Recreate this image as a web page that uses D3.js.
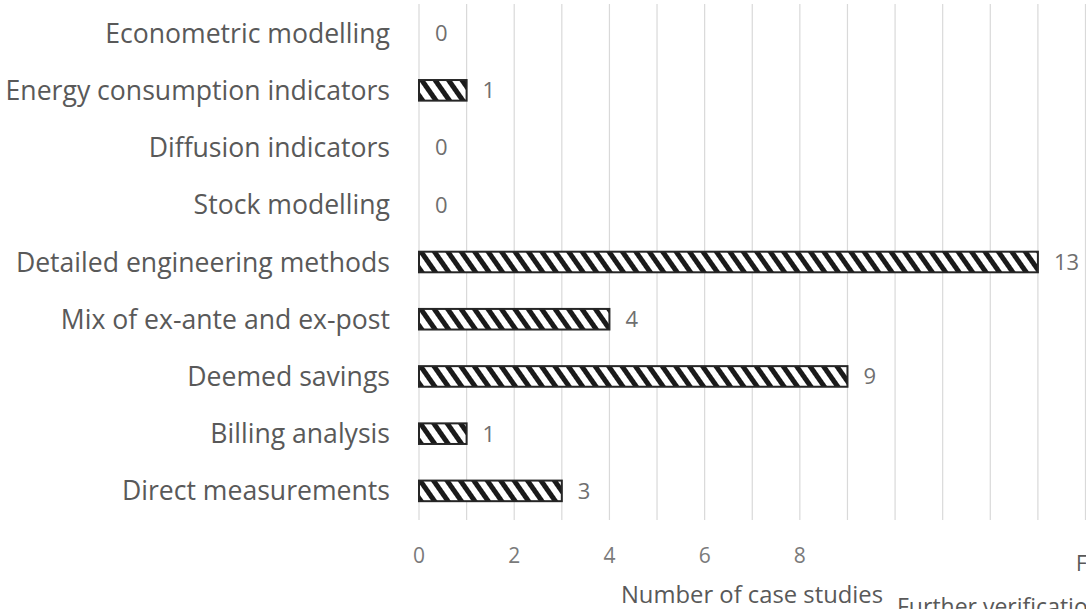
<!DOCTYPE html>
<html><head><meta charset="utf-8">
<script src="https://cdn.jsdelivr.net/npm/d3@7"></script>
<style>html,body{margin:0;padding:0;background:#fff;}svg{display:block;}</style>
</head><body>
<script>
const categories = ["Econometric modelling","Energy consumption indicators","Diffusion indicators","Stock modelling","Detailed engineering methods","Mix of ex-ante and ex-post","Deemed savings","Billing analysis","Direct measurements"];
const values = [0,1,0,0,13,4,9,1,3];
const tickLabels = [0,2,4,6,8];
const gridValues = [0,1,2,3,4,5,6,7,8,9,10,11,12,13,14];
const axisTitle = "Number of case studies";
const overlayTexts = ["F","Further verificatio"];

const W=1086,H=609;
const svg=d3.select("body").append("svg").attr("width",W).attr("height",H);
const font="'Open Sans', Lato, sans-serif";

const x=d3.scaleLinear().domain([0,14]).range([419,1085.5]);
const y=d3.scaleBand().domain(categories).range([4.5,519.5]).paddingInner(0.64).paddingOuter(0.32);

const defs=svg.append("defs");
const pat=defs.append("pattern").attr("id","hatch").attr("patternUnits","userSpaceOnUse")
  .attr("width",11).attr("height",11).attr("patternTransform","rotate(-35)");
pat.append("rect").attr("width",11).attr("height",11).attr("fill","#fff");
pat.append("rect").attr("x",0).attr("width",5).attr("height",11).attr("fill","#1a1a1a");

// gridlines
svg.append("g").selectAll("line").data(gridValues).join("line")
  .attr("x1",d=>x(d)).attr("x2",d=>x(d)).attr("y1",4).attr("y2",520)
  .attr("stroke","#d9d9d9").attr("stroke-width",1.2);

// bars
svg.append("g").selectAll("rect").data(categories).join("rect")
  .attr("x",x(0)).attr("y",(d)=>y(d)).attr("height",y.bandwidth())
  .attr("width",(d,i)=>x(values[i])-x(0))
  .attr("fill","url(#hatch)").attr("stroke",(d,i)=>values[i]>0?"#262626":"none").attr("stroke-width",2);

// value labels
svg.append("g").selectAll("text").data(categories).join("text")
  .attr("x",(d,i)=>x(values[i])+16).attr("y",d=>y(d)+y.bandwidth()/2)
  .attr("dy","0.36em").attr("font-family",font).attr("font-size",22).attr("fill","#6f6f6f")
  .text((d,i)=>values[i]);

// category labels
svg.append("g").selectAll("text").data(categories).join("text")
  .attr("x",390).attr("y",d=>y(d)+y.bandwidth()/2).attr("dy","0.36em")
  .attr("text-anchor","end").attr("font-family",font).attr("font-size",26.6).attr("fill","#595959")
  .text(d=>d);

// x tick labels
svg.append("g").selectAll("text").data(tickLabels).join("text")
  .attr("x",d=>x(d)).attr("y",563).attr("text-anchor","middle")
  .attr("font-family",font).attr("font-size",21).attr("fill","#7a7a7a").text(d=>d);

// axis title
svg.append("text").attr("x",752).attr("y",603).attr("text-anchor","middle")
  .attr("font-family",font).attr("font-size",23.8).attr("fill","#595959").text(axisTitle);

// overlay fragments from adjacent figure
svg.append("text").attr("x",1076).attr("y",571).attr("font-family",font).attr("font-size",21).attr("fill","#595959").text(overlayTexts[0]);
svg.append("text").attr("x",897).attr("y",615).attr("font-family",font).attr("font-size",23).attr("fill","#595959").text(overlayTexts[1]);
</script>
</body></html>
